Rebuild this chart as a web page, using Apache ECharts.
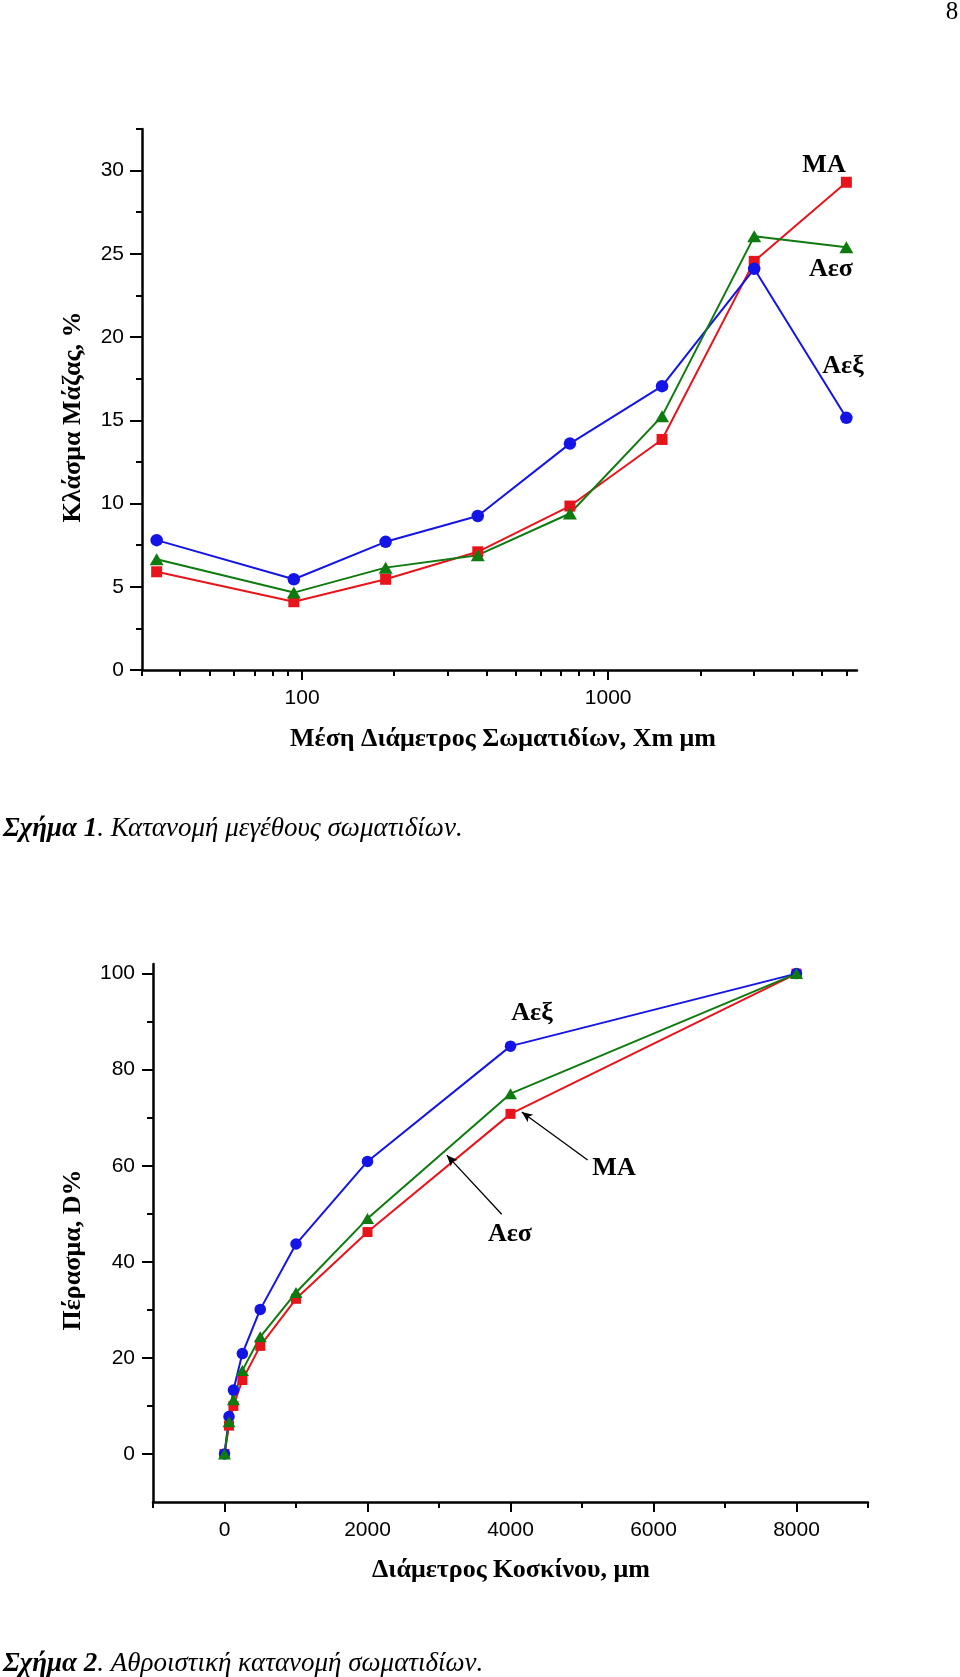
<!DOCTYPE html>
<html>
<head>
<meta charset="utf-8">
<script src="https://cdn.jsdelivr.net/npm/echarts@6/dist/echarts.min.js"></script>
<style>
  html, body { margin: 0; padding: 0; background: #ffffff; }
  #chart { width: 960px; height: 1677px; }
</style>
</head>
<body>
<div id="chart"></div>
<script>
// ---------- Figure 1: particle size distribution (mass fraction, %) ----------
const fig1Diameter = [33.5, 94, 187.5, 375, 750, 1500, 3000, 6000];      // mean diameter Xm, μm
const fig1MA  = [5.9, 4.1, 5.45, 7.1, 9.85, 13.85, 24.55, 29.3];          // ΜΑ (red squares)
const fig1Aex = [7.8, 5.45, 7.7, 9.25, 13.6, 17.05, 24.1, 15.15];         // Αεξ (blue circles)
const fig1Aes = [6.65, 4.65, 6.15, 6.9, 9.4, 15.25, 26.05, 25.4];         // Αεσ (green triangles)
const fig1XLabels = [100, 1000];
const fig1XMinor = [30, 40, 50, 60, 70, 80, 90, 200, 300, 400, 500, 600, 700, 800, 900, 2000, 3000, 4000, 5000, 6000];
const fig1YLabels = [0, 5, 10, 15, 20, 25, 30];
const fig1YMinor = [2.5, 7.5, 12.5, 17.5, 22.5, 27.5, 32.5];

// ---------- Figure 2: cumulative distribution (passing, D%) ----------
const fig2Sieve = [0, 63, 125, 250, 500, 1000, 2000, 4000, 8000];         // sieve diameter, μm
const fig2MA  = [0, 5.9, 10.0, 15.4, 22.5, 32.3, 46.2, 70.8, 100];
const fig2Aex = [0, 7.8, 13.3, 20.9, 30.1, 43.7, 60.9, 84.9, 100];
const fig2Aes = [0, 6.7, 11.3, 17.4, 24.4, 33.6, 49.0, 75.0, 100];
const fig2XLabels = [0, 2000, 4000, 6000, 8000];
const fig2XMinor = [-1000, 1000, 3000, 5000, 7000, 9000];
const fig2YLabels = [0, 20, 40, 60, 80, 100];
const fig2YMinor = [10, 30, 50, 70, 90];

const names = { MA: 'ΜΑ', Aex: 'Αεξ', Aes: 'Αεσ' };

const RED = '#e8141c', BLUE = '#1414e6', GREEN = '#0f7a0f';
const SANS = '"Liberation Sans", Arial, sans-serif';
const SERIF = '"Liberation Serif", "Times New Roman", serif';
const TITLE_FONT = 'bold 26px ' + SERIF;
const NOTE_FONT = 'bold 26px ' + SERIF;

function pairs(xs, ys) { return xs.map((x, i) => [x, ys[i]]); }

function mainAxis(type, grid, pos, min, max, labels, tickLen) {
  return {
    type: type, gridIndex: grid, position: pos, min: min, max: max,
    axisLine: { show: true, onZero: false, lineStyle: { color: '#000', width: 2.5 } },
    axisTick: { show: true, inside: false, length: tickLen, customValues: labels, lineStyle: { color: '#000', width: 2 } },
    axisLabel: { show: true, customValues: labels, color: '#000', fontFamily: SANS, fontSize: 21, margin: 18,
                 formatter: v => String(v) },
    splitLine: { show: false }, minorTick: { show: false }, minorSplitLine: { show: false }
  };
}
function minorAxis(type, grid, pos, min, max, ticks, tickLen) {
  return {
    type: type, gridIndex: grid, position: pos, min: min, max: max,
    axisLine: { show: false, onZero: false },
    axisTick: { show: true, inside: false, length: tickLen, customValues: ticks, lineStyle: { color: '#000', width: 2 } },
    axisLabel: { show: false },
    splitLine: { show: false }
  };
}

function lineSeries(name, color, symbol, size, data, xi, yi, extra) {
  return Object.assign({
    name: name, type: 'line', xAxisIndex: xi, yAxisIndex: yi, data: data,
    symbol: symbol, symbolSize: size, showAllSymbol: true,
    lineStyle: { color: color, width: 2 },
    itemStyle: { color: color, borderWidth: 0 },
    emphasis: { disabled: true }, silent: true, z: 3
  }, extra || {});
}

const arrowStyle = { color: '#000', width: 1.3, type: 'solid' };

function txt(x, y, text, font, rot) {
  const el = { type: 'text', x: x, y: y, style: { text: text, font: font, fill: '#000', align: 'center', verticalAlign: 'middle' } };
  if (rot) el.rotation = rot;
  return el;
}
function caption(y, num, rest) {
  return { type: 'text', x: 3, y: y, style: {
    text: '{b|Σχήμα ' + num + '}{n|' + rest + '}', fill: '#000', align: 'left', verticalAlign: 'middle',
    rich: { b: { font: 'italic bold 27px ' + SERIF, fill: '#000' }, n: { font: 'italic 27px ' + SERIF, fill: '#000' } } } };
}

const option = {
  animation: false,
  backgroundColor: '#ffffff',
  grid: [
    { left: 142, top: 129, width: 715, height: 541 },
    { left: 153, top: 964, width: 715, height: 538 }
  ],
  xAxis: [
    mainAxis('log', 0, 'bottom', 30, 6500, fig1XLabels, 10),
    minorAxis('log', 0, 'bottom', 30, 6500, fig1XMinor, 6),
    mainAxis('value', 1, 'bottom', -1000, 9000, fig2XLabels, 10),
    minorAxis('value', 1, 'bottom', -1000, 9000, fig2XMinor, 6)
  ],
  yAxis: [
    mainAxis('value', 0, 'left', 0, 32.5, fig1YLabels, 12),
    minorAxis('value', 0, 'left', 0, 32.5, fig1YMinor, 6),
    mainAxis('value', 1, 'left', -10, 102, fig2YLabels, 11),
    minorAxis('value', 1, 'left', -10, 102, fig2YMinor, 6)
  ],
  series: [
    lineSeries(names.MA, RED, 'rect', 11, pairs(fig1Diameter, fig1MA), 0, 0),
    lineSeries(names.Aex, BLUE, 'circle', 12.5, pairs(fig1Diameter, fig1Aex), 0, 0),
    lineSeries(names.Aes, GREEN, 'triangle', [14, 12], pairs(fig1Diameter, fig1Aes), 0, 0),

    lineSeries(names.MA, RED, 'rect', 10, pairs(fig2Sieve, fig2MA), 2, 2, {
      markLine: {
        silent: true, symbol: ['none', 'arrow'], symbolSize: [7, 11],
        label: { show: false }, lineStyle: arrowStyle, emphasis: { disabled: true },
        data: [
          [{ coord: [5079, 61.2] }, { coord: [4157, 71.2] }],
          [{ coord: [3877, 49.9] }, { coord: [3109, 62.2] }]
        ]
      }
    }),
    lineSeries(names.Aex, BLUE, 'circle', 11.5, pairs(fig2Sieve, fig2Aex), 2, 2),
    lineSeries(names.Aes, GREEN, 'triangle', [13, 11], pairs(fig2Sieve, fig2Aes), 2, 2)
  ],
  graphic: [
    txt(952, 12, '8', '25px ' + SERIF),

    // figure 1 texts
    txt(503, 739, 'Μέση Διάμετρος Σωματιδίων, Xm μm', TITLE_FONT),
    txt(73, 417, 'Κλάσμα Μάζας, %', TITLE_FONT, Math.PI / 2),
    txt(824, 165, names.MA, NOTE_FONT),
    txt(831, 269, names.Aes, NOTE_FONT),
    txt(843, 366, names.Aex, NOTE_FONT),
    caption(829, '1', '. Κατανομή μεγέθους σωματιδίων.'),

    // figure 2 texts
    txt(511, 1570, 'Διάμετρος Κοσκίνου, μm', TITLE_FONT),
    txt(73, 1250, 'Πέρασμα, D%', TITLE_FONT, Math.PI / 2),
    txt(532, 1013, names.Aex, NOTE_FONT),
    txt(614, 1168, names.MA, NOTE_FONT),
    txt(510, 1234, names.Aes, NOTE_FONT),
    caption(1664, '2', '. Αθροιστική κατανομή σωματιδίων.')
  ]
};

const chart = echarts.init(document.getElementById('chart'), null, { renderer: 'canvas' });
chart.setOption(option);
</script>
</body>
</html>
